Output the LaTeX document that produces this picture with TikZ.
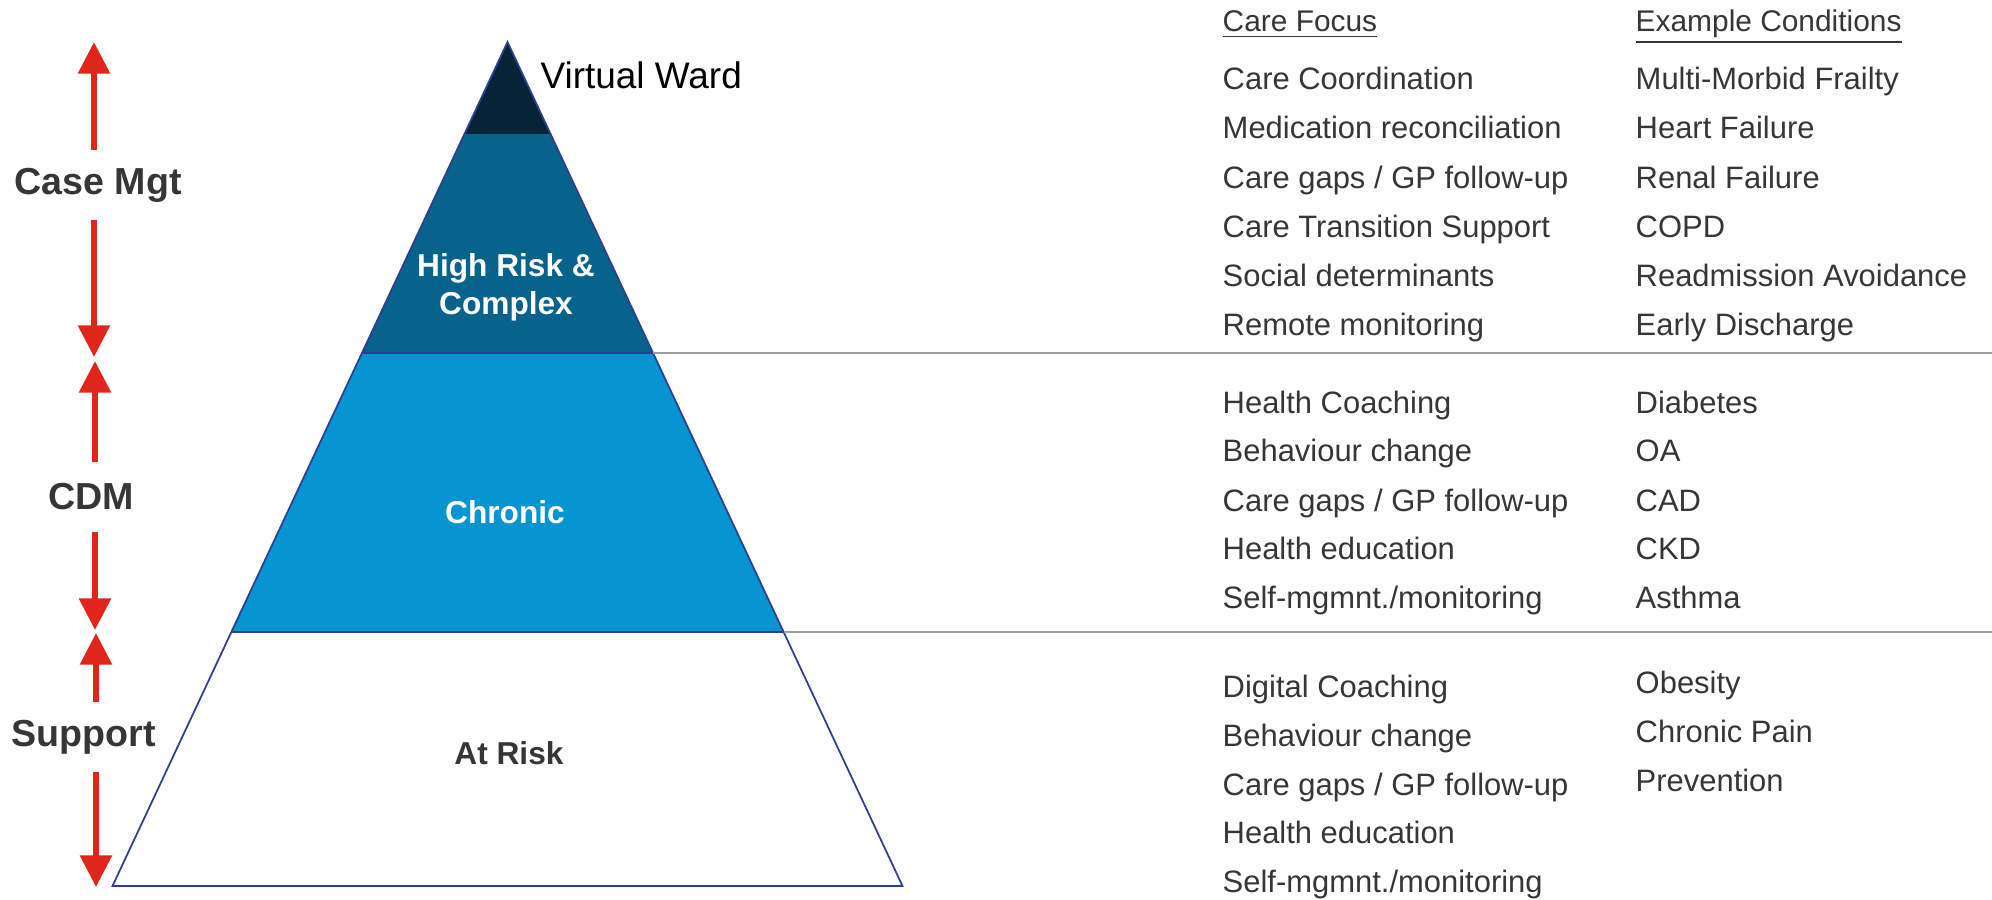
\documentclass[tikz,border=0pt]{standalone}
\usepackage{fontspec}
\setmainfont{Liberation Sans}
\usetikzlibrary{arrows.meta}

\definecolor{wardnavy}{HTML}{062436}
\definecolor{riskblue}{HTML}{07628C}
\definecolor{chronicblue}{HTML}{0795D2}
\definecolor{edgenavy}{HTML}{2F3F8F}
\definecolor{arrowred}{HTML}{E0261B}
\definecolor{txtgray}{HTML}{363636}
\definecolor{linegray}{HTML}{9C9C9C}

\tikzset{
  focus/.style={anchor=base west, inner sep=0pt, text=txtgray, font=\fontsize{8.8}{10}\selectfont},
  colhead/.style={focus, font=\fontsize{8.5}{10}\selectfont},
  tiername/.style={align=center, text=white, font=\bfseries\fontsize{9}{10.8}\selectfont},
  levelname/.style={inner sep=0pt, minimum height=0.68cm, text=txtgray, font=\bfseries\fontsize{10.7}{12}\selectfont},
  redarrow/.style={draw=arrowred, line width=1.7pt, -{Triangle[width=8.8pt,length=9pt]}},
  divider/.style={draw=linegray, line width=0.6pt}
}

\begin{document}
\begin{tikzpicture}[x=0.01cm, y=-0.01cm]
    \useasboundingbox (0,0) rectangle (1992,899);

    % Piramide a livelli
    \fill[wardnavy] (507.5,42) -- (550.5,134) -- (464.5,134) -- cycle;
    \fill[riskblue] (464.5,134) -- (550.5,134) -- (653,353) -- (362,353) -- cycle;
    \fill[chronicblue] (362,353) -- (653,353) -- (783.5,632) -- (231.5,632) -- cycle;
    \draw[edgenavy, line width=0.5pt] (507.5,42) -- (902.5,886) -- (112.5,886) -- cycle;
    \draw[edgenavy, line width=0.5pt] (362,353) -- (653,353);
    \draw[edgenavy, line width=0.8pt] (231.5,632) -- (783.5,632);

    \node[anchor=base west, inner sep=0pt, font=\fontsize{10.5}{12}\selectfont] (ward) at (540,88) {Virtual Ward};
    \node[tiername] (highrisk) at (506,287) {High Risk \&\\Complex};
    \node[tiername] (chronic) at (505,512) {Chronic};
    \node[tiername, text=txtgray] (atrisk) at (509,753) {At Risk};

    % Separatori verso le colonne
    \coordinate (hr-r) at (653,353);
    \coordinate (ch-r) at (783.5,632);
    \coordinate (hr-end) at (1992,353);
    \coordinate (ch-end) at (1992,632);
    \draw[divider] (hr-r) -- (hr-end);
    \draw[divider] (ch-r) -- (ch-end);

    % Frecce dei livelli di gestione
    \node[levelname] (casemgt) at (98,185) {Case Mgt};
    \coordinate (cm-top) at (94,42);
    \coordinate (cm-bot) at (94,357);
    \draw[redarrow] (casemgt.north -| cm-top) -- (cm-top);
    \draw[redarrow] (casemgt.south -| cm-bot) -- (cm-bot);

    \node[levelname] (cdm) at (91,497) {CDM};
    \coordinate (cdm-top) at (95,361);
    \coordinate (cdm-bot) at (95,630);
    \draw[redarrow] (cdm.north -| cdm-top) -- (cdm-top);
    \draw[redarrow] (cdm.south -| cdm-bot) -- (cdm-bot);

    \node[levelname] (support) at (84,737) {Support};
    \coordinate (sup-top) at (96,633);
    \coordinate (sup-bot) at (96,887);
    \draw[redarrow] (support.north -| sup-top) -- (sup-top);
    \draw[redarrow] (support.south -| sup-bot) -- (sup-bot);

    % Intestazioni
    \node[colhead] (focushead) at (1222,31) {\underline{Care Focus}};
    \node[colhead] (condhead) at (1635,31) {\underline{Example Conditions}};

    % Case management
    \node[focus] (cf1) at (1222,89) {Care Coordination};
    \node[focus] (cf2) at (1222,138) {Medication reconciliation};
    \node[focus] (cf3) at (1222,188) {Care gaps / GP follow-up};
    \node[focus] (cf4) at (1222,237) {Care Transition Support};
    \node[focus] (cf5) at (1222,286) {Social determinants};
    \node[focus] (cf6) at (1222,335) {Remote monitoring};
    \node[focus] (ec1) at (1635,89) {Multi-Morbid Frailty};
    \node[focus] (ec2) at (1635,138) {Heart Failure};
    \node[focus] (ec3) at (1635,188) {Renal Failure};
    \node[focus] (ec4) at (1635,237) {COPD};
    \node[focus] (ec5) at (1635,286) {Readmission Avoidance};
    \node[focus] (ec6) at (1635,335) {Early Discharge};

    % Chronic disease management
    \node[focus] (cd1) at (1222,413) {Health Coaching};
    \node[focus] (cd2) at (1222,461) {Behaviour change};
    \node[focus] (cd3) at (1222,511) {Care gaps / GP follow-up};
    \node[focus] (cd4) at (1222,559) {Health education};
    \node[focus] (cd5) at (1222,608) {Self-mgmnt./monitoring};
    \node[focus] (dc1) at (1635,413) {Diabetes};
    \node[focus] (dc2) at (1635,461) {OA};
    \node[focus] (dc3) at (1635,511) {CAD};
    \node[focus] (dc4) at (1635,559) {CKD};
    \node[focus] (dc5) at (1635,608) {Asthma};

    % Support
    \node[focus] (sp1) at (1222,697) {Digital Coaching};
    \node[focus] (sp2) at (1222,746) {Behaviour change};
    \node[focus] (sp3) at (1222,795) {Care gaps / GP follow-up};
    \node[focus] (sp4) at (1222,843) {Health education};
    \node[focus] (sp5) at (1222,892) {Self-mgmnt./monitoring};
    \node[focus] (sc1) at (1635,693) {Obesity};
    \node[focus] (sc2) at (1635,742) {Chronic Pain};
    \node[focus] (sc3) at (1635,791) {Prevention};
\end{tikzpicture}
\end{document}
